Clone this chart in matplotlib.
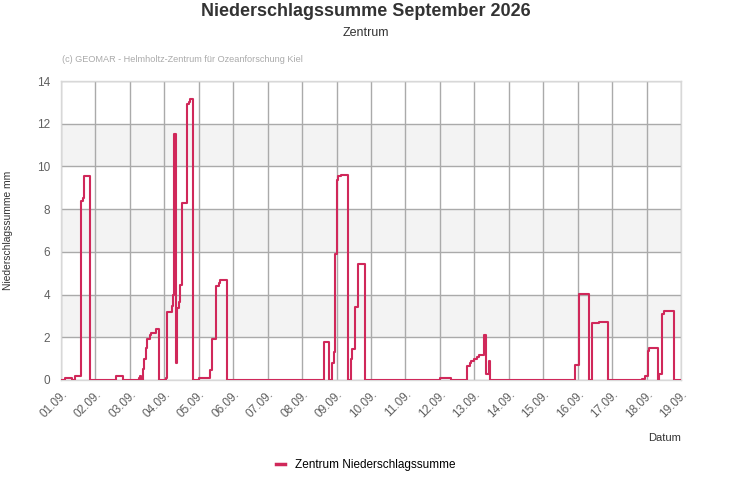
import matplotlib
matplotlib.use("Agg")
import matplotlib.pyplot as plt
import numpy as np

plt.rcParams['font.family'] = ['Liberation Sans', 'DejaVu Sans']

# hour since 01.09. 00:00 -> precipitation sum (mm), step values
hours = [0, 3, 8, 10, 14, 15, 16, 20,
         38, 43,
         54, 55, 56, 57, 58, 59, 60, 62, 63, 66, 68,
         73, 74, 77, 78, 79, 80, 81, 82, 83, 84, 88, 89, 90, 92,
         96, 104, 105, 108, 110, 111, 116,
         183, 187, 189, 190, 191, 192, 193, 195, 200,
         202, 203, 205, 207, 212,
         264, 272,
         283, 285, 286, 288, 290, 291, 295, 296, 298, 299,
         358, 361, 368,
         370, 375, 381,
         405, 407, 409, 410, 416,
         417, 419, 420, 427, 432]
values = [0, 0.1, 0, 0.2, 8.4, 8.5, 9.55, 0,
          0.2, 0,
          0.1, 0.2, 0, 0.5, 1.0, 1.5, 1.9, 2.1, 2.2, 2.4, 0,
          0.1, 3.2, 3.45, 4.0, 11.5, 0.8, 3.35, 3.65, 4.45, 8.3, 12.9, 13.0, 13.15, 0,
          0.1, 0.45, 1.9, 4.4, 4.55, 4.7, 0,
          1.8, 0, 0.8, 1.3, 5.9, 9.35, 9.55, 9.6, 0,
          1.0, 1.45, 3.4, 5.45, 0,
          0.1, 0,
          0.64, 0.78, 0.9, 1.0, 1.1, 1.17, 2.1, 0.3, 0.9, 0,
          0.7, 4.03, 0,
          2.65, 2.72, 0,
          0.05, 0.2, 1.35, 1.5, 0,
          0.3, 3.1, 3.22, 0, 0]

day_labels = ["%02d.09." % d for d in range(1, 20)]
y_ticks = [0, 2, 4, 6, 8, 10, 12, 14]

fig = plt.figure(figsize=(7.31, 5.0), dpi=100)
ax = fig.add_axes([61/731, 1-380/500, 620/731, 299/500])

days = np.array(hours) / 24.0

# alternating bands
for lo in [2, 6, 10]:
    ax.axhspan(lo, lo+2, color='#f3f3f3', zorder=0, lw=0)

ax.plot(days, values, drawstyle='steps-post', color='#d0285a', lw=1.5,
        label='Zentrum Niederschlagssumme', zorder=3)

ax.set_xlim(0, 18)
ax.set_ylim(0, 14)
ax.set_xticks(range(19))
ax.set_xticklabels(day_labels, rotation=45, ha='right', rotation_mode='anchor',
                   fontsize=8.5, color='#606060')
ax.set_yticks(y_ticks)
ax.set_yticklabels([str(y) for y in y_ticks], fontsize=8.5, color='#606060')
ax.tick_params(axis='both', length=0, pad=6)
ax.tick_params(axis='y', pad=8)
ax.grid(True, color='#aaaaaa', lw=1, zorder=1)
ax.set_axisbelow(True)
for s in ax.spines.values():
    s.set_color('#d8d8d8')
    s.set_linewidth(1)

ax.set_ylabel('Niederschlagssumme mm', fontsize=7.4, color='#333333')
ax.yaxis.set_label_coords(-0.078, 0.5)

fig.text(0.5, 1-12/500, 'Niederschlagssumme September 2026', ha='center', va='center',
         fontsize=13, fontweight='bold', color='#333333')
fig.text(0.5, 1-33/500, 'Zentrum', ha='center', va='center', fontsize=9, color='#333333')
fig.text(62/731, 1-60/500, '(c) GEOMAR - Helmholtz-Zentrum für Ozeanforschung Kiel',
         ha='left', va='center', fontsize=6.6, color='#aaaaaa')
fig.text(681/731, 1-438/500, 'Datum', ha='right', va='center', fontsize=8, color='#333333')

leg = fig.legend(loc='center', bbox_to_anchor=(0.5, 1-465/500), frameon=False,
                 fontsize=8.5, handlelength=0.8, handletextpad=0.8)
for line in leg.get_lines():
    line.set_linewidth(2.5)

fig.savefig('out.png', dpi=100)
